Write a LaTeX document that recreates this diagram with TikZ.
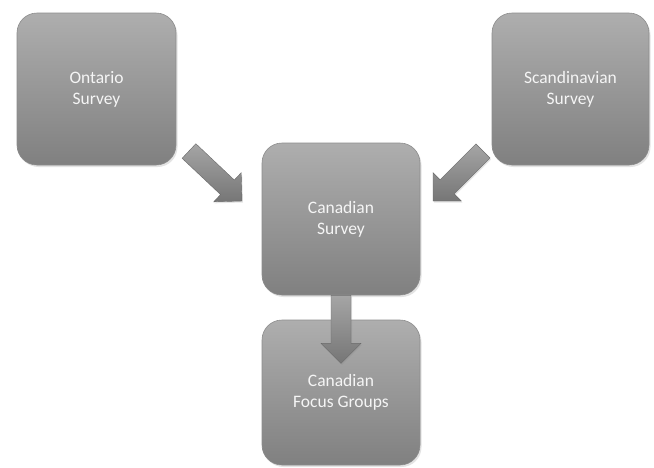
\documentclass[tikz,border=0pt]{standalone}
\usepackage{fontspec}
\setmainfont{Carlito}
\usetikzlibrary{calc,shadows}
\definecolor{boxtop}{RGB}{174,174,174}
\definecolor{boxbot}{RGB}{128,128,128}
\definecolor{boxline}{RGB}{140,140,140}
\definecolor{arrtop}{RGB}{165,165,165}
\definecolor{arrbot}{RGB}{118,118,118}
\definecolor{txt}{RGB}{245,245,245}
\tikzset{
  stagebox/.style={rectangle, rounded corners=20pt, draw=boxline, line width=0.6pt,
    top color=boxtop, bottom color=boxbot, text=txt, align=center,
    font=\fontsize{17.5}{21}\selectfont,
    minimum width=158pt, minimum height=152pt, inner sep=0pt,
    drop shadow={opacity=0.22, shadow xshift=1.5pt, shadow yshift=-2pt}},
  blockarrow/.style={draw=arrbot!90!black, line width=0.4pt, top color=arrtop, bottom color=arrbot,
    drop shadow={opacity=0.2, shadow xshift=1pt, shadow yshift=-1.5pt}}
}
\newcommand{\blockarr}[2]{%
  \path[blockarrow]
    ($(#1)!10pt!90:(#2)$) --
    ($($(#2)!20pt!(#1)$)!10pt!90:(#2)$) --
    ($($(#2)!20pt!(#1)$)!20pt!90:(#2)$) --
    (#2) --
    ($($(#2)!20pt!(#1)$)!20pt!-90:(#2)$) --
    ($($(#2)!20pt!(#1)$)!10pt!-90:(#2)$) --
    ($(#1)!10pt!-90:(#2)$) -- cycle;}
\begin{document}
\begin{tikzpicture}[x=1pt,y=-1pt]
\useasboundingbox[fill=white] (0,0) rectangle (654,467);
\node[stagebox, minimum width=159pt] (ont) at (96.5,89) {Ontario\\Survey};
\node[stagebox, minimum width=157pt] (sca) at (570.5,89) {Scandinavian\\Survey};
\node[stagebox] (can) at (341,219) {Canadian\\Survey};
\node[stagebox, minimum height=145pt] (foc) at (341,392.5) {\raisebox{-6pt}{\begin{tabular}{@{}c@{}}Canadian\\Focus Groups\end{tabular}}};
\coordinate (t1) at (189,151);
\coordinate (h1) at (242,201);
\coordinate (t2) at (483,151);
\coordinate (h2) at (433,201);
\coordinate (t3) at (can.south);
\coordinate (h3) at ($(can.south)+(0,68)$);
\blockarr{t1}{h1}
\blockarr{t2}{h2}
\blockarr{t3}{h3}
\end{tikzpicture}
\end{document}
